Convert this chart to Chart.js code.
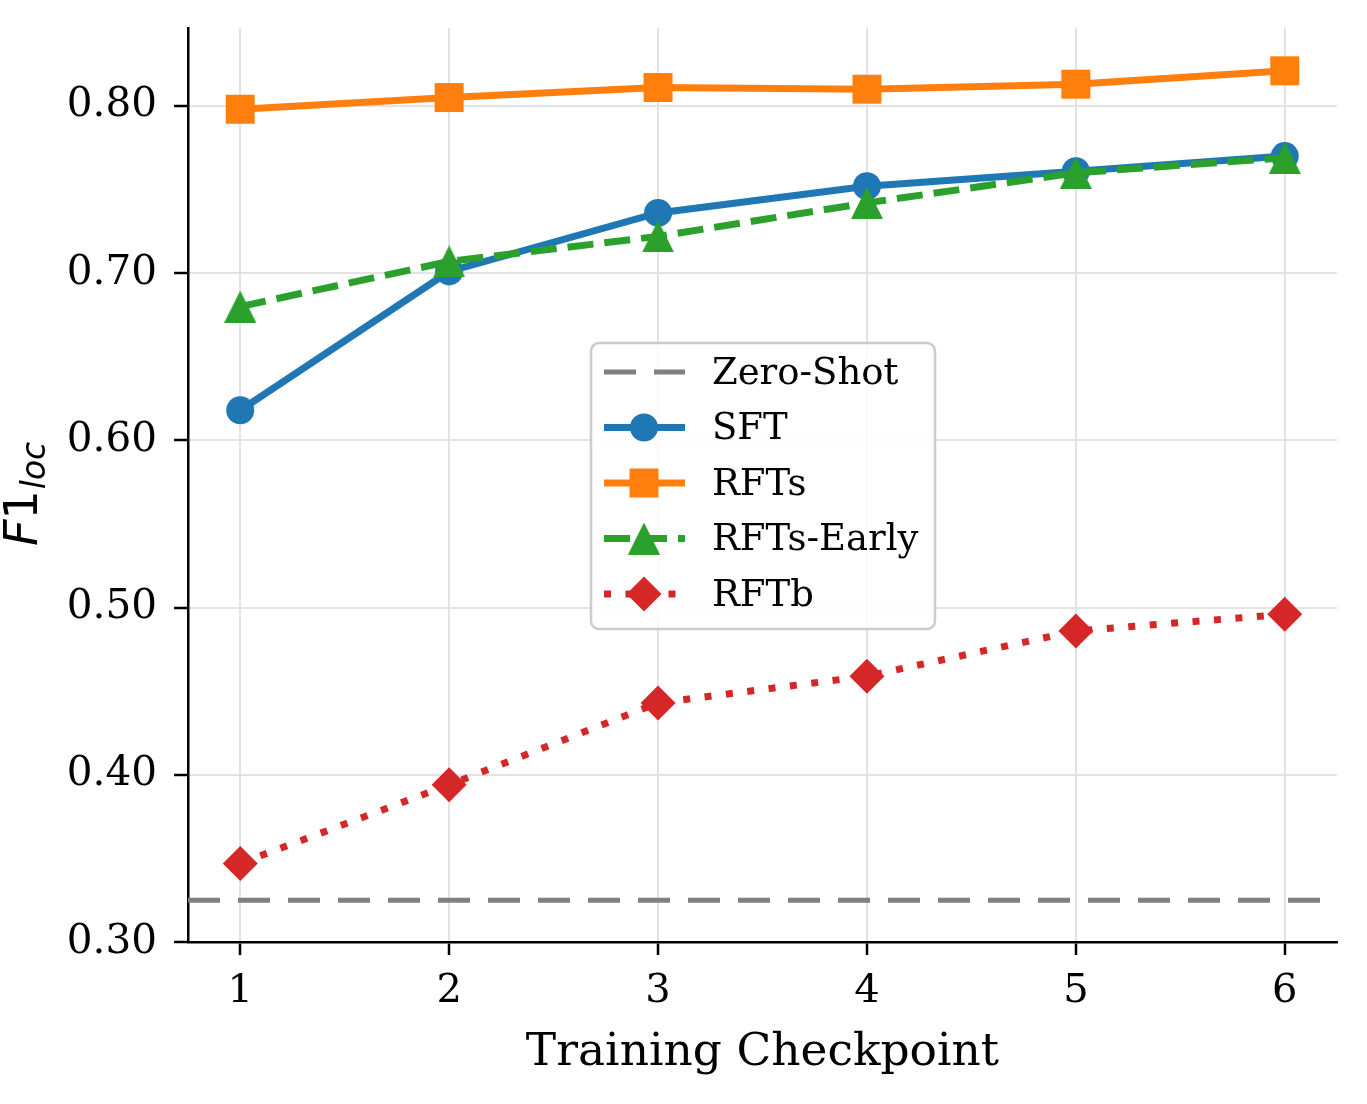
<!DOCTYPE html>
<html>
<head>
<meta charset="utf-8">
<script src="https://cdn.jsdelivr.net/npm/chart.js@4.4.0/dist/chart.umd.min.js"></script>
<style>
  html, body { margin: 0; padding: 0; background: #fff; }
</style>
</head>
<body>
<canvas id="f1Chart" width="1367" height="1104"></canvas>
<script>
// values
const checkpoints = [1, 2, 3, 4, 5, 6];
const sft = [0.618, 0.701, 0.736, 0.752, 0.761, 0.770];
const rfts = [0.798, 0.805, 0.811, 0.810, 0.813, 0.821];
const rftsEarly = [0.680, 0.707, 0.722, 0.742, 0.760, 0.769];
const rftb = [0.347, 0.394, 0.443, 0.459, 0.486, 0.496];
const zeroShot = 0.325;

const xTicks = [1, 2, 3, 4, 5, 6];
const xTickLabels = ['1', '2', '3', '4', '5', '6'];
const yTicks = [0.30, 0.40, 0.50, 0.60, 0.70, 0.80];
const yTickLabels = ['0.30', '0.40', '0.50', '0.60', '0.70', '0.80'];

const X_MIN = 0.75, X_MAX = 6.25;
const Y_MIN = 0.30, Y_MAX = 0.8466;

const BLUE = '#1f77b4', ORANGE = '#ff7f0e', GREEN = '#2ca02c', RED = '#d62728', GREY = '#808080';

function toPoints(vals) {
    return checkpoints.map((c, i) => ({ x: c, y: vals[i] }));
}

function makeTriangle(size, color) {
    const c = document.createElement('canvas');
    c.width = size; c.height = size;
    const g = c.getContext('2d');
    g.fillStyle = color;
    g.beginPath();
    g.moveTo(size / 2, 0);
    g.lineTo(size, size);
    g.lineTo(0, size);
    g.closePath();
    g.fill();
    return c;
}
const triangleImg = makeTriangle(32, GREEN);

const legendItems = [
    { label: 'Zero-Shot', color: GREY, width: 5, dash: [32, 18], marker: null },
    { label: 'SFT', color: BLUE, width: 7, dash: [], marker: 'circle' },
    { label: 'RFTs', color: ORANGE, width: 7, dash: [], marker: 'square' },
    { label: 'RFTs-Early', color: GREEN, width: 7, dash: [26, 11], marker: 'triangle' },
    { label: 'RFTb', color: RED, width: 7, dash: [7, 14.5], marker: 'diamond' }
];

function drawMarker(ctx, kind, x, y, color) {
    ctx.fillStyle = color;
    ctx.beginPath();
    if (kind === 'circle') {
        ctx.arc(x, y, 14, 0, Math.PI * 2);
        ctx.fill();
    } else if (kind === 'square') {
        ctx.fillRect(x - 14.5, y - 14.5, 29, 29);
    } else if (kind === 'triangle') {
        ctx.drawImage(triangleImg, x - 16, y - 16);
    } else if (kind === 'diamond') {
        ctx.moveTo(x, y - 17.5);
        ctx.lineTo(x + 17.5, y);
        ctx.lineTo(x, y + 17.5);
        ctx.lineTo(x - 17.5, y);
        ctx.closePath();
        ctx.fill();
    }
}

const legendPlugin = {
    id: 'boxLegend',
    afterDraw(chart) {
        const ctx = chart.ctx;
        const bx = 591, by = 343, bw = 344, bh = 286, r = 8;
        ctx.save();
        ctx.beginPath();
        ctx.moveTo(bx + r, by);
        ctx.arcTo(bx + bw, by, bx + bw, by + bh, r);
        ctx.arcTo(bx + bw, by + bh, bx, by + bh, r);
        ctx.arcTo(bx, by + bh, bx, by, r);
        ctx.arcTo(bx, by, bx + bw, by, r);
        ctx.closePath();
        ctx.fillStyle = 'rgba(255,255,255,0.8)';
        ctx.fill();
        ctx.strokeStyle = '#cccccc';
        ctx.lineWidth = 2.5;
        ctx.stroke();

        ctx.font = '37px "DejaVu Serif"';
        ctx.textBaseline = 'middle';
        ctx.textAlign = 'left';
        legendItems.forEach((item, i) => {
            const y = 372 + i * 55.5;
            ctx.beginPath();
            ctx.setLineDash(item.dash);
            ctx.lineWidth = item.width;
            ctx.lineCap = 'butt';
            ctx.strokeStyle = item.color;
            ctx.moveTo(604, y);
            ctx.lineTo(685, y);
            ctx.stroke();
            ctx.setLineDash([]);
            if (item.marker) drawMarker(ctx, item.marker, 644, y, item.color);
            ctx.fillStyle = '#000';
            ctx.fillText(item.label, 712, y + 2);
        });
        ctx.restore();
    }
};

const titlePlugin = {
    id: 'axisTitles',
    afterDraw(chart) {
        const ctx = chart.ctx;
        const area = chart.chartArea;
        ctx.save();
        ctx.fillStyle = '#000';
        ctx.textAlign = 'center';
        ctx.textBaseline = 'alphabetic';
        ctx.font = '45.5px "DejaVu Serif"';
        ctx.fillText('Training Checkpoint', (area.left + area.right) / 2, 1065);

        // F1_loc, mathtext style
        ctx.translate(37, 546);
        ctx.rotate(-Math.PI / 2);
        ctx.textAlign = 'left';
        ctx.font = 'italic 46px "DejaVu Sans"';
        ctx.fillText('F', 0, 0);
        let w = ctx.measureText('F').width;
        ctx.font = '46px "DejaVu Sans"';
        ctx.fillText('1', w, 0);
        w += ctx.measureText('1').width;
        ctx.font = 'italic 33px "DejaVu Sans"';
        ctx.fillText('loc', w + 1, 8);
        ctx.restore();
    }
};

const ctx = document.getElementById('f1Chart').getContext('2d');
const chart = new Chart(ctx, {
    type: 'line',
    data: {
        datasets: [
            {
                label: 'Zero-Shot',
                data: [{ x: X_MIN, y: zeroShot }, { x: X_MAX, y: zeroShot }],
                borderColor: GREY,
                borderWidth: 5,
                borderDash: [32, 18],
                pointRadius: 0,
                order: 5
            },
            {
                label: 'SFT',
                data: toPoints(sft),
                borderColor: BLUE,
                backgroundColor: BLUE,
                borderWidth: 7,
                pointStyle: 'circle',
                pointRadius: 14,
                pointBorderWidth: 0,
                order: 4
            },
            {
                label: 'RFTs',
                data: toPoints(rfts),
                borderColor: ORANGE,
                backgroundColor: ORANGE,
                borderWidth: 7,
                pointStyle: 'rect',
                pointRadius: 20.5,
                pointBorderWidth: 0,
                order: 3
            },
            {
                label: 'RFTs-Early',
                data: toPoints(rftsEarly),
                borderColor: GREEN,
                backgroundColor: GREEN,
                borderWidth: 7,
                borderDash: [26, 11],
                pointStyle: triangleImg,
                pointRadius: 16,
                pointBorderWidth: 0,
                order: 2
            },
            {
                label: 'RFTb',
                data: toPoints(rftb),
                borderColor: RED,
                backgroundColor: RED,
                borderWidth: 7,
                borderDash: [7, 14.5],
                pointStyle: 'rectRot',
                pointRadius: 17.5,
                pointBorderWidth: 0,
                order: 1
            }
        ]
    },
    options: {
        responsive: false,
        animation: false,
        devicePixelRatio: 1,
        layout: {
            padding: { left: 0, top: 28, right: 30, bottom: 0 }
        },
        elements: {
            line: { tension: 0, borderCapStyle: 'butt' }
        },
        scales: {
            x: {
                type: 'linear',
                min: X_MIN,
                max: X_MAX,
                afterBuildTicks: (scale) => {
                    scale.ticks = xTicks.map(v => ({ value: v }));
                },
                afterFit: (scale) => {
                    scale.height = 162;
                    scale.paddingLeft = 0;
                    scale.paddingRight = 0;
                },
                ticks: {
                    callback: (value) => xTickLabels[xTicks.indexOf(value)],
                    font: { family: 'DejaVu Serif', size: 40 },
                    color: '#000',
                    padding: 13,
                    maxRotation: 0
                },
                grid: {
                    color: '#e3e3e3',
                    lineWidth: 2,
                    tickColor: '#000',
                    tickWidth: 2.5,
                    tickLength: 13
                },
                border: { display: true, color: '#000', width: 2.5 }
            },
            y: {
                min: Y_MIN,
                max: Y_MAX,
                afterBuildTicks: (scale) => {
                    scale.ticks = yTicks.map(v => ({ value: v }));
                },
                afterFit: (scale) => {
                    scale.width = 188;
                    scale.paddingTop = 0;
                    scale.paddingBottom = 0;
                },
                ticks: {
                    callback: (value) => yTickLabels[yTicks.indexOf(value)],
                    font: { family: 'DejaVu Serif', size: 40.5 },
                    color: '#000',
                    padding: 17
                },
                grid: {
                    color: '#e3e3e3',
                    lineWidth: 2,
                    tickColor: '#000',
                    tickWidth: 2.5,
                    tickLength: 14
                },
                border: { display: true, color: '#000', width: 2.5 }
            }
        },
        plugins: {
            legend: { display: false },
            tooltip: { enabled: false }
        }
    },
    plugins: [legendPlugin, titlePlugin]
});
</script>
</body>
</html>
